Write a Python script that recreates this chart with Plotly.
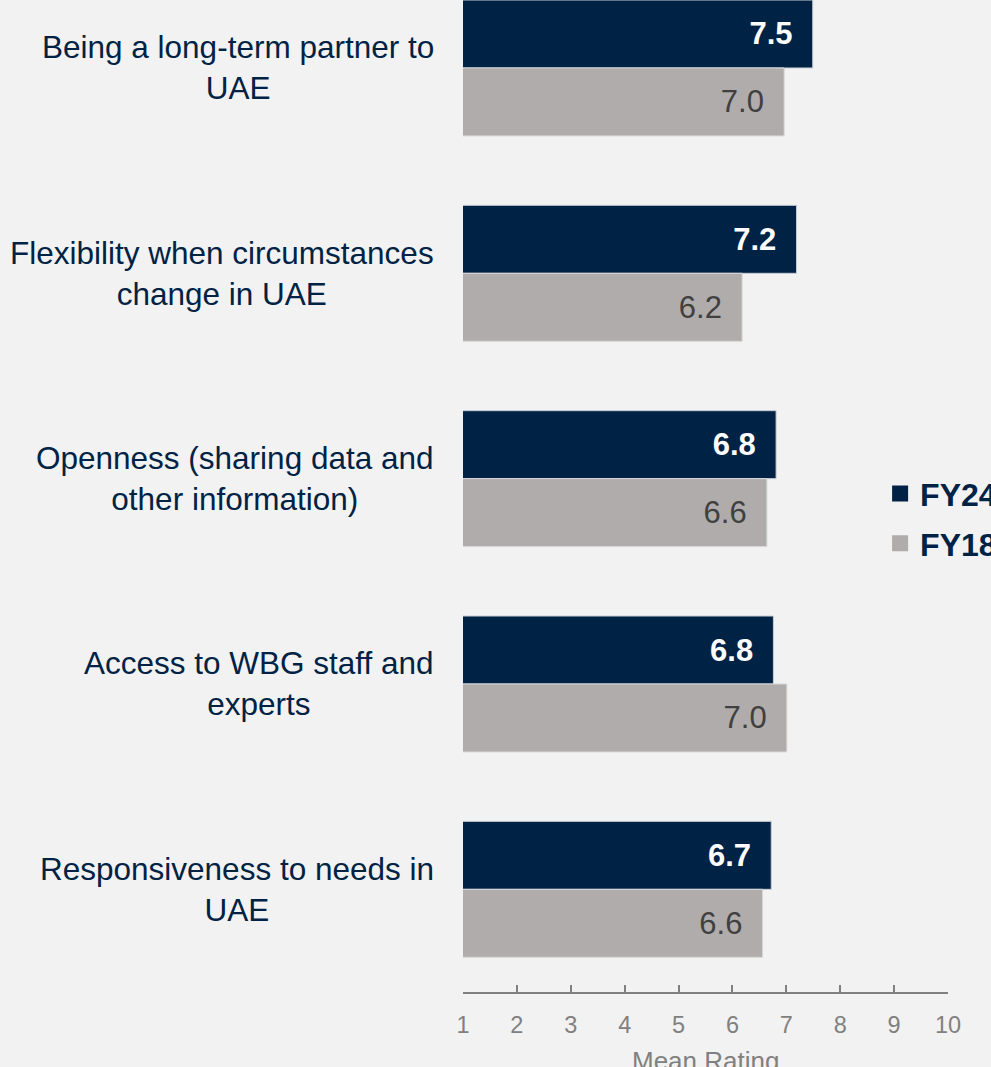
import plotly.graph_objects as go

categories = [
    "Being a long-term partner to<br>UAE",
    "Flexibility when circumstances<br>change in UAE",
    "Openness (sharing data and<br>other information)",
    "Access to WBG staff and<br>experts",
    "Responsiveness to needs in<br>UAE",
]
fy24 = [7.49, 7.19, 6.81, 6.76, 6.72]
fy18 = [6.96, 6.18, 6.64, 7.01, 6.56]
series_names = ["FY24", "FY18"]
x_ticks = [1, 2, 3, 4, 5, 6, 7, 8, 9, 10]
x_title = "Mean Rating"

NAVY = "#002244"
GRAY = "#AFACAB"
BG = "#F2F2F2"
AXIS = "#808080"
FONT = "Liberation Sans, Arial, sans-serif"
PAD = "\u00a0\u00a0"

fig = go.Figure()
fig.add_trace(go.Bar(
    y=categories, x=fy24, orientation="h", name=series_names[0],
    marker=dict(color=NAVY, line=dict(color="#C8CDD6", width=1)),
    texttemplate="%{x:.1f}" + PAD, textposition="inside", insidetextanchor="end",
    textfont=dict(family=FONT, size=31, color="white", weight="bold"),
    showlegend=False, cliponaxis=True, hoverinfo="skip",
))
fig.add_trace(go.Bar(
    y=categories, x=fy18, orientation="h", name=series_names[1],
    marker=dict(color=GRAY, line=dict(color="#D9D9D9", width=1)),
    texttemplate="%{x:.1f}" + PAD, textposition="inside", insidetextanchor="end",
    textfont=dict(family=FONT, size=31, color="#404040"),
    showlegend=False, cliponaxis=True, hoverinfo="skip",
))
# legend entries
for nm, col, grp in [(series_names[0], NAVY, "a"), (series_names[1], GRAY, "b")]:
    fig.add_trace(go.Scatter(
        x=[None], y=[None], mode="markers", name=nm, legendgroup=grp,
        marker=dict(symbol="square", size=16, color=col),
    ))

for c in categories:
    fig.add_annotation(
        x=0, xref="paper", xshift=-27, xanchor="right",
        y=c, yref="y", yanchor="middle",
        text=c, showarrow=False, align="center",
        font=dict(family=FONT, size=31.5, color=NAVY),
    )

# x-axis title (placed below tick labels, partly beyond the bottom edge as in the reference)
fig.add_annotation(
    x=0.5, xref="paper", xanchor="center",
    y=0, yref="paper", yanchor="top", yshift=-52,
    text=x_title, showarrow=False,
    font=dict(family=FONT, size=26, color=AXIS),
)

fig.update_layout(
    width=991, height=1067,
    margin=dict(l=463, r=43, t=0, b=75, pad=0, autoexpand=False),
    paper_bgcolor=BG, plot_bgcolor=BG,
    barmode="group", bargap=0.338, bargroupgap=0,
    showlegend=True,
    legend=dict(
        x=0.860, xanchor="left", y=0.477, yanchor="middle",
        font=dict(family=FONT, size=32, color=NAVY, weight="bold"),
        tracegroupgap=5, bgcolor="rgba(0,0,0,0)",
        itemclick=False,
    ),
    font=dict(family=FONT),
)
fig.update_xaxes(
    range=[1, 10], tickvals=x_ticks, ticktext=[str(t) for t in x_ticks],
    ticks="inside", ticklen=7, tickwidth=2, tickcolor=AXIS,
    showline=True, linecolor=AXIS, linewidth=2,
    showgrid=False, zeroline=False,
    tickfont=dict(family=FONT, size=23.5, color=AXIS),
    ticklabelstandoff=11,
)
fig.update_yaxes(
    type="category", range=[4.5, -0.331],
    showticklabels=False, showgrid=False, zeroline=False, showline=False, ticks="",
)

fig.write_html(
    "out.html",
    config={"displayModeBar": False},
    post_script="document.body.style.margin='0';document.body.style.overflow='hidden';",
)
